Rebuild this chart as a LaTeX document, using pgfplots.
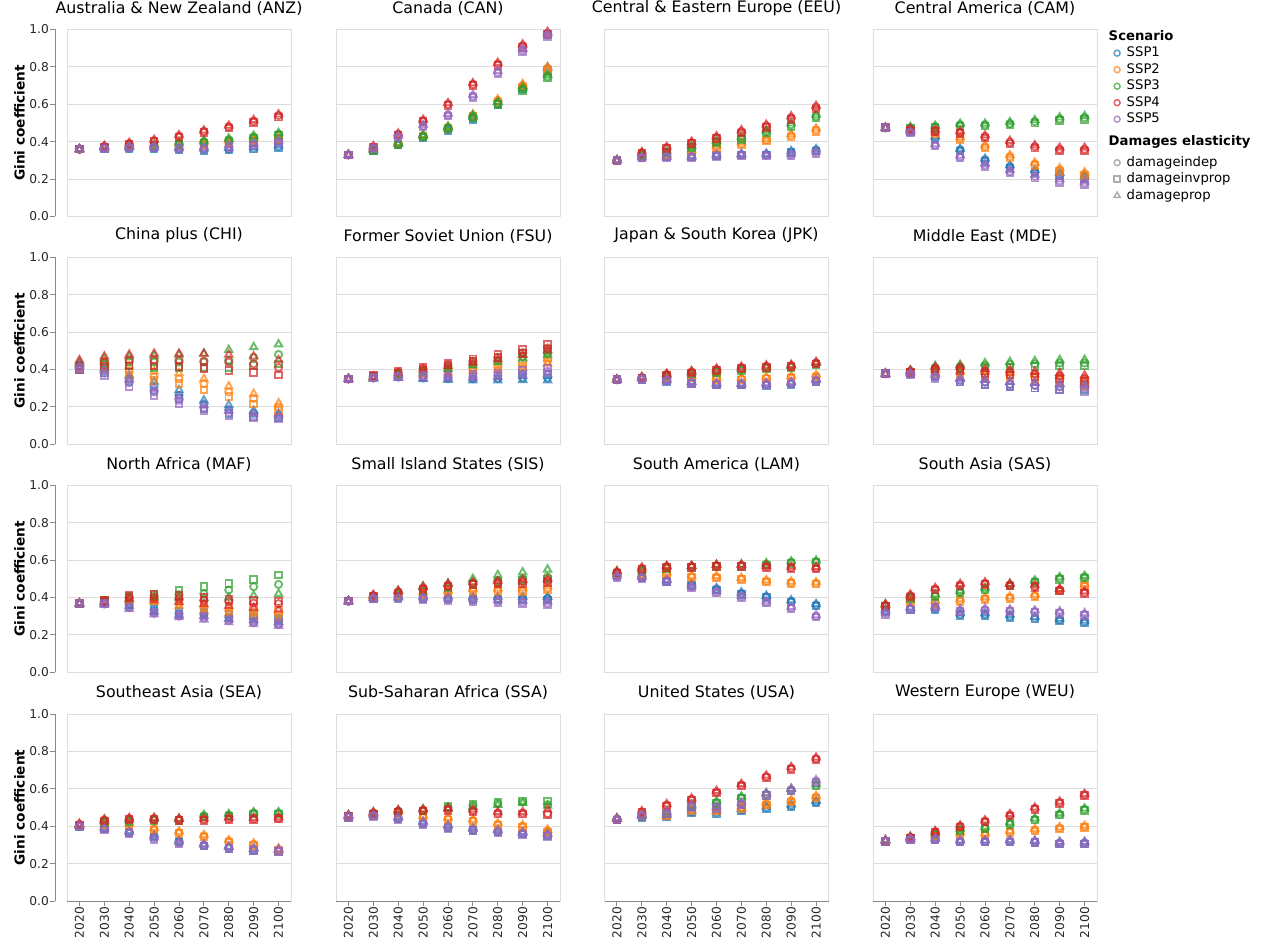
\documentclass[border=0pt]{standalone}
\usepackage{fontspec}
\setmainfont{DejaVu Sans}
\usepackage{pgfplots}
\usepackage{pgfplotstable}
\pgfplotsset{compat=1.18}
\definecolor{c1}{HTML}{1F77B4}
\definecolor{c2}{HTML}{FF7F0E}
\definecolor{c3}{HTML}{2CA02C}
\definecolor{c4}{HTML}{D62728}
\definecolor{c5}{HTML}{9467BD}
\definecolor{gridc}{HTML}{DDDDDD}
\definecolor{axc}{HTML}{888888}

\pgfplotstableread{
x a1 b1 c1 a2 b2 c2 a3 b3 c3 a4 b4 c4 a5 b5 c5
0 0.36 0.36 0.36 0.36 0.36 0.36 0.36 0.36 0.36 0.36 0.36 0.36 0.36 0.36 0.36
1 0.365 0.362 0.367 0.37 0.367 0.372 0.37 0.367 0.372 0.375 0.372 0.378 0.365 0.362 0.367
2 0.365 0.362 0.368 0.375 0.371 0.378 0.375 0.371 0.379 0.39 0.386 0.394 0.37 0.366 0.373
3 0.365 0.361 0.369 0.38 0.375 0.384 0.38 0.375 0.385 0.405 0.40 0.41 0.37 0.366 0.374
4 0.36 0.356 0.365 0.385 0.38 0.39 0.39 0.384 0.395 0.43 0.424 0.435 0.365 0.36 0.37
5 0.358 0.353 0.363 0.39 0.384 0.396 0.40 0.394 0.406 0.455 0.448 0.46 0.365 0.36 0.37
6 0.36 0.355 0.366 0.40 0.393 0.407 0.41 0.403 0.417 0.48 0.473 0.486 0.375 0.37 0.38
7 0.365 0.36 0.371 0.41 0.403 0.417 0.425 0.417 0.432 0.51 0.502 0.516 0.385 0.378 0.39
8 0.375 0.369 0.381 0.42 0.412 0.428 0.44 0.432 0.447 0.54 0.531 0.546 0.40 0.393 0.406
}\tANZ

\pgfplotstableread{
x a1 b1 c1 a2 b2 c2 a3 b3 c3 a4 b4 c4 a5 b5 c5
0 0.33 0.33 0.33 0.33 0.33 0.33 0.33 0.33 0.33 0.33 0.33 0.33 0.33 0.33 0.33
1 0.355 0.353 0.358 0.358 0.356 0.361 0.355 0.352 0.358 0.373 0.37 0.376 0.365 0.362 0.368
2 0.385 0.382 0.389 0.39 0.387 0.394 0.388 0.384 0.392 0.44 0.436 0.444 0.427 0.423 0.431
3 0.425 0.421 0.43 0.432 0.428 0.437 0.43 0.426 0.435 0.512 0.507 0.517 0.484 0.479 0.489
4 0.465 0.46 0.47 0.475 0.47 0.48 0.475 0.469 0.48 0.60 0.594 0.606 0.543 0.537 0.549
5 0.525 0.519 0.531 0.54 0.534 0.546 0.535 0.528 0.541 0.707 0.70 0.713 0.644 0.637 0.651
6 0.605 0.598 0.612 0.62 0.613 0.627 0.605 0.598 0.612 0.815 0.807 0.822 0.771 0.763 0.778
7 0.69 0.682 0.698 0.70 0.692 0.708 0.68 0.672 0.688 0.913 0.905 0.92 0.89 0.882 0.897
8 0.79 0.781 0.798 0.79 0.781 0.798 0.75 0.741 0.758 0.98 0.972 0.987 0.97 0.962 0.977
}\tCAN

\pgfplotstableread{
x a1 b1 c1 a2 b2 c2 a3 b3 c3 a4 b4 c4 a5 b5 c5
0 0.30 0.30 0.30 0.30 0.30 0.30 0.30 0.30 0.30 0.30 0.30 0.30 0.30 0.30 0.30
1 0.316 0.314 0.318 0.325 0.322 0.328 0.33 0.327 0.333 0.341 0.338 0.344 0.314 0.312 0.316
2 0.32 0.318 0.322 0.33 0.327 0.334 0.345 0.341 0.349 0.368 0.364 0.372 0.318 0.316 0.32
3 0.32 0.317 0.323 0.35 0.346 0.355 0.373 0.368 0.378 0.395 0.39 0.40 0.318 0.315 0.321
4 0.329 0.326 0.332 0.373 0.368 0.378 0.40 0.394 0.406 0.423 0.417 0.429 0.325 0.322 0.328
5 0.332 0.328 0.335 0.39 0.384 0.396 0.418 0.411 0.425 0.454 0.447 0.461 0.328 0.325 0.331
6 0.332 0.328 0.336 0.41 0.403 0.417 0.454 0.446 0.461 0.484 0.476 0.491 0.328 0.324 0.332
7 0.345 0.341 0.349 0.432 0.424 0.44 0.49 0.481 0.498 0.528 0.52 0.536 0.33 0.326 0.334
8 0.356 0.351 0.36 0.463 0.454 0.471 0.537 0.528 0.545 0.584 0.575 0.592 0.343 0.338 0.347
}\tEEU

\pgfplotstableread{
x a1 b1 c1 a2 b2 c2 a3 b3 c3 a4 b4 c4 a5 b5 c5
0 0.475 0.475 0.475 0.475 0.475 0.475 0.475 0.475 0.475 0.475 0.475 0.475 0.475 0.475 0.475
1 0.458 0.455 0.461 0.46 0.457 0.463 0.475 0.472 0.478 0.465 0.462 0.468 0.45 0.447 0.453
2 0.423 0.418 0.428 0.445 0.44 0.45 0.48 0.475 0.485 0.46 0.455 0.465 0.382 0.377 0.387
3 0.356 0.35 0.362 0.418 0.412 0.424 0.49 0.484 0.496 0.45 0.444 0.456 0.32 0.314 0.326
4 0.302 0.295 0.309 0.373 0.366 0.38 0.49 0.483 0.497 0.427 0.42 0.434 0.275 0.268 0.282
5 0.266 0.258 0.274 0.32 0.312 0.328 0.497 0.489 0.505 0.397 0.389 0.405 0.24 0.232 0.248
6 0.24 0.232 0.248 0.28 0.272 0.288 0.507 0.499 0.515 0.373 0.365 0.381 0.213 0.205 0.221
7 0.225 0.216 0.234 0.249 0.24 0.258 0.521 0.512 0.53 0.359 0.35 0.368 0.19 0.181 0.199
8 0.21 0.201 0.219 0.227 0.218 0.236 0.528 0.519 0.537 0.359 0.35 0.368 0.178 0.169 0.187
}\tCAM

\pgfplotstableread{
x a1 b1 c1 a2 b2 c2 a3 b3 c3 a4 b4 c4 a5 b5 c5
0 0.41 0.40 0.43 0.41 0.40 0.43 0.42 0.40 0.44 0.42 0.40 0.45 0.41 0.40 0.42
1 0.39 0.38 0.41 0.42 0.40 0.44 0.43 0.41 0.46 0.44 0.42 0.47 0.38 0.365 0.40
2 0.35 0.335 0.37 0.39 0.37 0.42 0.44 0.42 0.47 0.45 0.42 0.48 0.33 0.31 0.35
3 0.31 0.285 0.335 0.36 0.34 0.39 0.44 0.41 0.475 0.45 0.42 0.485 0.28 0.26 0.30
4 0.262 0.244 0.29 0.35 0.325 0.38 0.44 0.41 0.48 0.45 0.415 0.485 0.235 0.215 0.255
5 0.214 0.19 0.235 0.325 0.29 0.35 0.44 0.41 0.485 0.445 0.405 0.485 0.195 0.18 0.21
6 0.185 0.164 0.21 0.28 0.255 0.31 0.45 0.41 0.505 0.44 0.395 0.48 0.17 0.155 0.18
7 0.165 0.145 0.18 0.245 0.215 0.27 0.465 0.42 0.52 0.43 0.385 0.47 0.15 0.14 0.165
8 0.155 0.14 0.165 0.20 0.18 0.22 0.48 0.43 0.535 0.41 0.37 0.45 0.145 0.135 0.155
}\tCHI

\pgfplotstableread{
x a1 b1 c1 a2 b2 c2 a3 b3 c3 a4 b4 c4 a5 b5 c5
0 0.35 0.35 0.35 0.35 0.35 0.35 0.35 0.35 0.35 0.35 0.35 0.35 0.35 0.35 0.35
1 0.355 0.359 0.352 0.36 0.364 0.357 0.362 0.366 0.359 0.365 0.369 0.362 0.355 0.359 0.352
2 0.36 0.366 0.356 0.37 0.376 0.366 0.375 0.381 0.371 0.385 0.391 0.381 0.36 0.366 0.356
3 0.355 0.363 0.349 0.38 0.388 0.374 0.39 0.398 0.384 0.405 0.413 0.399 0.36 0.368 0.354
4 0.352 0.362 0.345 0.39 0.40 0.383 0.41 0.42 0.403 0.425 0.435 0.418 0.36 0.37 0.353
5 0.35 0.362 0.342 0.40 0.412 0.392 0.43 0.442 0.422 0.445 0.457 0.437 0.362 0.374 0.354
6 0.352 0.366 0.342 0.41 0.424 0.40 0.45 0.464 0.44 0.465 0.479 0.455 0.368 0.382 0.358
7 0.355 0.371 0.344 0.42 0.436 0.409 0.47 0.486 0.459 0.49 0.506 0.479 0.378 0.394 0.367
8 0.355 0.373 0.342 0.445 0.463 0.432 0.49 0.508 0.477 0.515 0.533 0.502 0.39 0.408 0.377
}\tFSU

\pgfplotstableread{
x a1 b1 c1 a2 b2 c2 a3 b3 c3 a4 b4 c4 a5 b5 c5
0 0.346 0.346 0.346 0.346 0.346 0.346 0.346 0.346 0.346 0.346 0.346 0.346 0.346 0.346 0.346
1 0.35 0.347 0.353 0.352 0.349 0.355 0.355 0.352 0.358 0.357 0.354 0.36 0.35 0.347 0.353
2 0.34 0.336 0.344 0.36 0.356 0.364 0.368 0.364 0.372 0.374 0.37 0.378 0.342 0.338 0.346
3 0.33 0.326 0.334 0.36 0.355 0.365 0.38 0.375 0.385 0.387 0.382 0.392 0.33 0.326 0.334
4 0.322 0.318 0.326 0.352 0.347 0.357 0.39 0.385 0.395 0.40 0.395 0.405 0.322 0.318 0.326
5 0.32 0.316 0.324 0.35 0.345 0.355 0.40 0.395 0.405 0.41 0.405 0.415 0.322 0.318 0.326
6 0.32 0.315 0.325 0.355 0.35 0.36 0.41 0.405 0.415 0.417 0.412 0.422 0.322 0.317 0.327
7 0.325 0.32 0.33 0.36 0.355 0.365 0.415 0.41 0.42 0.42 0.415 0.425 0.328 0.323 0.333
8 0.34 0.335 0.345 0.365 0.36 0.37 0.43 0.425 0.435 0.435 0.43 0.44 0.34 0.335 0.345
}\tJPK

\pgfplotstableread{
x a1 b1 c1 a2 b2 c2 a3 b3 c3 a4 b4 c4 a5 b5 c5
0 0.378 0.378 0.378 0.378 0.378 0.378 0.378 0.378 0.378 0.378 0.378 0.378 0.378 0.378 0.378
1 0.38 0.375 0.385 0.385 0.38 0.39 0.39 0.385 0.395 0.39 0.385 0.395 0.375 0.37 0.38
2 0.37 0.362 0.378 0.39 0.382 0.398 0.41 0.402 0.418 0.405 0.397 0.413 0.36 0.352 0.368
3 0.342 0.332 0.352 0.38 0.37 0.39 0.415 0.405 0.425 0.405 0.395 0.415 0.342 0.332 0.352
4 0.333 0.321 0.345 0.375 0.363 0.387 0.422 0.41 0.434 0.39 0.378 0.402 0.333 0.321 0.345
5 0.32 0.306 0.334 0.37 0.356 0.384 0.427 0.413 0.441 0.385 0.371 0.399 0.32 0.306 0.334
6 0.315 0.30 0.33 0.36 0.345 0.375 0.43 0.415 0.445 0.375 0.36 0.39 0.315 0.30 0.33
7 0.31 0.294 0.326 0.35 0.334 0.366 0.435 0.419 0.451 0.365 0.349 0.381 0.306 0.29 0.322
8 0.31 0.293 0.327 0.33 0.313 0.347 0.435 0.418 0.452 0.352 0.335 0.369 0.30 0.283 0.317
}\tMDE

\pgfplotstableread{
x a1 b1 c1 a2 b2 c2 a3 b3 c3 a4 b4 c4 a5 b5 c5
0 0.369 0.369 0.369 0.369 0.369 0.369 0.369 0.369 0.369 0.369 0.369 0.369 0.369 0.369 0.369
1 0.37 0.372 0.368 0.38 0.383 0.377 0.38 0.385 0.378 0.38 0.385 0.375 0.365 0.368 0.362
2 0.36 0.365 0.355 0.395 0.40 0.385 0.40 0.405 0.395 0.40 0.41 0.39 0.345 0.35 0.34
3 0.333 0.34 0.325 0.385 0.395 0.375 0.41 0.42 0.40 0.40 0.415 0.385 0.315 0.322 0.31
4 0.315 0.325 0.305 0.37 0.385 0.355 0.415 0.44 0.40 0.395 0.41 0.375 0.30 0.31 0.295
5 0.31 0.32 0.30 0.345 0.365 0.33 0.42 0.458 0.395 0.385 0.40 0.365 0.29 0.30 0.282
6 0.295 0.31 0.285 0.33 0.35 0.315 0.44 0.476 0.40 0.378 0.39 0.355 0.276 0.285 0.268
7 0.295 0.305 0.28 0.32 0.34 0.30 0.458 0.497 0.41 0.37 0.385 0.345 0.265 0.275 0.258
8 0.28 0.29 0.27 0.31 0.33 0.29 0.47 0.52 0.42 0.367 0.38 0.335 0.255 0.265 0.248
}\tMAF

\pgfplotstableread{
x a1 b1 c1 a2 b2 c2 a3 b3 c3 a4 b4 c4 a5 b5 c5
0 0.381 0.381 0.381 0.381 0.381 0.381 0.381 0.381 0.381 0.381 0.381 0.381 0.381 0.381 0.381
1 0.395 0.392 0.398 0.40 0.397 0.403 0.405 0.40 0.41 0.41 0.406 0.414 0.395 0.392 0.398
2 0.40 0.396 0.404 0.415 0.41 0.42 0.425 0.418 0.435 0.43 0.425 0.436 0.395 0.391 0.399
3 0.40 0.395 0.405 0.42 0.414 0.426 0.445 0.437 0.46 0.45 0.444 0.456 0.395 0.39 0.40
4 0.40 0.394 0.406 0.43 0.424 0.436 0.46 0.451 0.475 0.465 0.458 0.472 0.39 0.384 0.396
5 0.397 0.39 0.404 0.44 0.433 0.447 0.48 0.47 0.50 0.475 0.468 0.482 0.385 0.378 0.392
6 0.395 0.388 0.402 0.44 0.432 0.448 0.49 0.48 0.52 0.48 0.472 0.488 0.38 0.373 0.387
7 0.395 0.387 0.403 0.44 0.431 0.449 0.50 0.49 0.535 0.485 0.476 0.494 0.375 0.367 0.383
8 0.395 0.386 0.404 0.45 0.441 0.46 0.51 0.50 0.55 0.49 0.48 0.50 0.37 0.362 0.378
}\tSIS

\pgfplotstableread{
x a1 b1 c1 a2 b2 c2 a3 b3 c3 a4 b4 c4 a5 b5 c5
0 0.52 0.515 0.525 0.525 0.52 0.53 0.535 0.53 0.54 0.535 0.53 0.54 0.51 0.505 0.515
1 0.51 0.505 0.515 0.52 0.515 0.525 0.545 0.54 0.55 0.556 0.551 0.561 0.505 0.50 0.51
2 0.49 0.485 0.495 0.53 0.525 0.535 0.56 0.555 0.565 0.565 0.56 0.57 0.488 0.483 0.493
3 0.47 0.465 0.475 0.512 0.507 0.517 0.565 0.56 0.57 0.565 0.56 0.57 0.456 0.451 0.461
4 0.445 0.44 0.45 0.51 0.505 0.515 0.57 0.565 0.575 0.57 0.565 0.575 0.43 0.425 0.435
5 0.422 0.417 0.427 0.50 0.495 0.505 0.572 0.567 0.577 0.57 0.565 0.575 0.405 0.40 0.41
6 0.404 0.399 0.409 0.488 0.483 0.493 0.578 0.573 0.583 0.565 0.56 0.57 0.375 0.37 0.38
7 0.38 0.375 0.385 0.48 0.475 0.485 0.588 0.583 0.593 0.56 0.555 0.565 0.345 0.34 0.35
8 0.36 0.355 0.365 0.476 0.471 0.481 0.592 0.587 0.597 0.558 0.553 0.563 0.30 0.295 0.305
}\tLAM

\pgfplotstableread{
x a1 b1 c1 a2 b2 c2 a3 b3 c3 a4 b4 c4 a5 b5 c5
0 0.33 0.324 0.336 0.357 0.351 0.363 0.357 0.351 0.363 0.357 0.351 0.363 0.316 0.31 0.322
1 0.34 0.334 0.346 0.38 0.374 0.386 0.40 0.394 0.406 0.41 0.404 0.416 0.34 0.334 0.346
2 0.34 0.334 0.346 0.375 0.369 0.381 0.41 0.404 0.416 0.445 0.439 0.451 0.35 0.344 0.356
3 0.31 0.304 0.316 0.385 0.379 0.391 0.43 0.424 0.436 0.467 0.461 0.473 0.33 0.324 0.336
4 0.31 0.304 0.316 0.395 0.389 0.401 0.445 0.439 0.451 0.475 0.469 0.481 0.335 0.329 0.341
5 0.30 0.294 0.306 0.40 0.394 0.406 0.467 0.461 0.473 0.467 0.461 0.473 0.33 0.324 0.336
6 0.29 0.284 0.296 0.41 0.404 0.416 0.485 0.479 0.491 0.46 0.454 0.466 0.325 0.319 0.331
7 0.28 0.274 0.286 0.44 0.434 0.446 0.503 0.497 0.509 0.44 0.434 0.446 0.32 0.314 0.326
8 0.27 0.264 0.276 0.465 0.459 0.471 0.51 0.504 0.516 0.428 0.422 0.434 0.31 0.304 0.316
}\tSAS

\pgfplotstableread{
x a1 b1 c1 a2 b2 c2 a3 b3 c3 a4 b4 c4 a5 b5 c5
0 0.40 0.397 0.403 0.405 0.402 0.408 0.405 0.402 0.408 0.41 0.407 0.413 0.40 0.397 0.403
1 0.39 0.386 0.394 0.41 0.406 0.414 0.425 0.421 0.429 0.433 0.429 0.437 0.385 0.381 0.389
2 0.37 0.366 0.374 0.41 0.406 0.414 0.43 0.426 0.434 0.44 0.436 0.444 0.365 0.361 0.369
3 0.348 0.343 0.353 0.385 0.38 0.39 0.435 0.43 0.44 0.44 0.435 0.445 0.335 0.33 0.34
4 0.32 0.315 0.325 0.366 0.361 0.371 0.435 0.43 0.44 0.435 0.43 0.44 0.31 0.305 0.315
5 0.298 0.293 0.303 0.348 0.343 0.353 0.455 0.45 0.46 0.436 0.431 0.441 0.298 0.293 0.303
6 0.285 0.28 0.29 0.32 0.315 0.325 0.46 0.455 0.465 0.44 0.435 0.445 0.285 0.28 0.29
7 0.275 0.27 0.28 0.303 0.298 0.308 0.47 0.465 0.475 0.44 0.435 0.445 0.275 0.27 0.28
8 0.27 0.265 0.275 0.275 0.27 0.28 0.47 0.465 0.475 0.443 0.438 0.448 0.27 0.265 0.275
}\tSEA

\pgfplotstableread{
x a1 b1 c1 a2 b2 c2 a3 b3 c3 a4 b4 c4 a5 b5 c5
0 0.45 0.446 0.454 0.455 0.451 0.459 0.455 0.451 0.459 0.455 0.451 0.459 0.45 0.446 0.454
1 0.46 0.456 0.464 0.465 0.461 0.469 0.47 0.466 0.474 0.47 0.466 0.474 0.455 0.451 0.459
2 0.445 0.44 0.45 0.47 0.465 0.475 0.48 0.475 0.485 0.48 0.475 0.485 0.44 0.435 0.445
3 0.42 0.415 0.425 0.45 0.445 0.455 0.485 0.48 0.49 0.485 0.48 0.49 0.415 0.41 0.42
4 0.40 0.394 0.406 0.44 0.434 0.446 0.50 0.506 0.494 0.49 0.484 0.496 0.395 0.389 0.401
5 0.384 0.378 0.39 0.43 0.424 0.436 0.51 0.516 0.504 0.483 0.477 0.489 0.38 0.374 0.386
6 0.375 0.369 0.381 0.41 0.404 0.416 0.52 0.526 0.514 0.47 0.464 0.476 0.37 0.364 0.376
7 0.364 0.358 0.37 0.40 0.394 0.406 0.53 0.536 0.524 0.47 0.464 0.476 0.36 0.354 0.366
8 0.357 0.351 0.363 0.375 0.369 0.381 0.515 0.535 0.51 0.467 0.461 0.49 0.35 0.344 0.356
}\tSSA

\pgfplotstableread{
x a1 b1 c1 a2 b2 c2 a3 b3 c3 a4 b4 c4 a5 b5 c5
0 0.437 0.433 0.441 0.437 0.433 0.441 0.437 0.433 0.441 0.437 0.433 0.441 0.437 0.433 0.441
1 0.45 0.446 0.454 0.455 0.451 0.459 0.455 0.451 0.459 0.476 0.472 0.48 0.455 0.451 0.459
2 0.455 0.45 0.46 0.46 0.455 0.465 0.47 0.465 0.475 0.513 0.508 0.518 0.47 0.465 0.475
3 0.475 0.47 0.48 0.49 0.485 0.495 0.51 0.505 0.515 0.544 0.539 0.549 0.505 0.50 0.51
4 0.475 0.469 0.481 0.49 0.484 0.496 0.527 0.521 0.533 0.583 0.577 0.589 0.50 0.494 0.506
5 0.487 0.481 0.493 0.50 0.494 0.506 0.553 0.547 0.559 0.62 0.614 0.626 0.52 0.514 0.526
6 0.50 0.494 0.506 0.52 0.514 0.526 0.57 0.564 0.576 0.665 0.659 0.671 0.57 0.564 0.576
7 0.51 0.504 0.516 0.535 0.529 0.541 0.594 0.588 0.60 0.71 0.704 0.716 0.594 0.588 0.60
8 0.53 0.524 0.536 0.556 0.55 0.562 0.62 0.614 0.626 0.761 0.755 0.767 0.64 0.634 0.646
}\tUSA

\pgfplotstableread{
x a1 b1 c1 a2 b2 c2 a3 b3 c3 a4 b4 c4 a5 b5 c5
0 0.321 0.318 0.324 0.321 0.318 0.324 0.321 0.318 0.324 0.321 0.318 0.324 0.321 0.318 0.324
1 0.33 0.327 0.333 0.335 0.332 0.338 0.34 0.337 0.343 0.34 0.337 0.343 0.33 0.327 0.333
2 0.33 0.326 0.334 0.35 0.346 0.354 0.36 0.356 0.364 0.37 0.366 0.374 0.33 0.326 0.334
3 0.32 0.316 0.324 0.36 0.356 0.364 0.38 0.376 0.384 0.40 0.396 0.404 0.32 0.316 0.324
4 0.32 0.316 0.324 0.357 0.353 0.361 0.39 0.386 0.394 0.427 0.423 0.431 0.32 0.316 0.324
5 0.32 0.315 0.325 0.37 0.365 0.375 0.415 0.41 0.42 0.46 0.455 0.465 0.32 0.315 0.325
6 0.317 0.312 0.322 0.38 0.375 0.385 0.437 0.432 0.442 0.495 0.49 0.50 0.317 0.312 0.322
7 0.31 0.305 0.315 0.39 0.385 0.395 0.464 0.459 0.469 0.527 0.522 0.532 0.31 0.305 0.315
8 0.31 0.305 0.315 0.397 0.392 0.402 0.49 0.485 0.495 0.568 0.563 0.573 0.31 0.305 0.315
}\tWEU

\newcommand{\fti}{\fontsize{15.8pt}{19pt}\selectfont}
\newcommand{\ftick}{\fontsize{12.2pt}{14pt}\selectfont}
\newcommand{\flab}{\fontsize{13.7pt}{16pt}\selectfont\bfseries}
\newcommand{\fleg}{\fontsize{13.2pt}{15pt}\selectfont}
\newcommand{\flegh}{\fontsize{13.2pt}{15pt}\selectfont\bfseries}

\pgfplotsset{
  gmark/.style={only marks, forget plot, line width=1.9pt, draw opacity=0.7, mark options={solid, fill=none}},
  gpanel/.style={
    scale only axis, width=224pt, height=187pt, anchor=north west,
    xmin=-0.5, xmax=8.5, ymin=0, ymax=1,
    xtick=\empty, ytick={0,0.2,0.4,0.6,0.8,1},
    yticklabels={},
    ymajorgrids, major grid style={draw=gridc, line width=1pt},
    axis line style={draw=gridc, line width=1pt},
    major tick length=0pt, tick style={draw=none},
    tick label style={font=\ftick, text=black!85},
    yticklabel style={anchor=east, inner sep=0pt, xshift=-18pt},
    xticklabel style={rotate=90, anchor=east, inner sep=0pt},
    xticklabel shift=6pt,
    title style={font=\fti, at={(0.5,1)}, anchor=south, inner sep=0pt, yshift=8pt},
    clip=false,
  },
  leftcol/.style={
    yticklabels={0.0,0.2,0.4,0.6,0.8,1.0},
    ylabel={Gini coefficient},
    ylabel style={font=\flab, at={(axis description cs:-0.1875,0.5)}, anchor=south, inner sep=0pt},
    after end axis/.append code={
      \draw[axc, line width=1pt] ([xshift=-12pt]rel axis cs:0,0) -- ([xshift=-12pt]rel axis cs:0,1);
      \foreach \yy in {0,0.2,0.4,0.6,0.8,1} {\draw[axc, line width=1pt] ([xshift=-12pt]axis cs:-0.5,\yy) -- ++(-5pt,0pt);}
    }
  },
  bottomrow/.style={
    xtick={0,1,2,3,4,5,6,7,8},
    xticklabels={2020,2030,2040,2050,2060,2070,2080,2090,2100},
    after end axis/.append code={
      \draw[axc, line width=1pt] (rel axis cs:0,0) -- (rel axis cs:1,0);
      \foreach \xx in {0,...,8} {\draw[axc, line width=1pt] (axis cs:\xx,0) -- ++(0pt,-5pt);}
    }
  },
  limg/.style={legend image code/.code={\draw[##1] plot coordinates {(0pt,0pt)};}, line width=1.5pt, draw opacity=0.7, mark options={solid, fill=none}, mark size=3pt},
}

\newcommand{\plotssp}[3]{%
  \addplot[gmark, draw=#1, mark=o, mark size=3.6pt] table[x=x, y=a#2] {#3};
  \addplot[gmark, draw=#1, mark=square, mark size=3.3pt] table[x=x, y=b#2] {#3};
  \addplot[gmark, draw=#1, mark=triangle, mark size=4.2pt] table[x=x, y=c#2] {#3};
}

\newcommand{\panel}[6]{%
\begin{axis}[gpanel, at={(#3pt,#4pt)}, title={#2}, #5]
\plotssp{c1}{1}{#1}\plotssp{c2}{2}{#1}\plotssp{c3}{3}{#1}\plotssp{c4}{4}{#1}\plotssp{c5}{5}{#1}
#6
\end{axis}}

\begin{document}
\begin{tikzpicture}
\useasboundingbox (0pt,0pt) rectangle (1263pt,938pt);
% row 1
\panel{\tANZ}{Australia \& New Zealand (ANZ)}{67}{908.5}{leftcol}{}
\panel{\tCAN}{Canada (CAN)}{336}{908.5}{}{}
\panel{\tEEU}{Central \& Eastern Europe (EEU)}{604.5}{908.5}{}{}
\panel{\tCAM}{Central America (CAM)}{873}{908.5}{
  legend style={at={(1,1)}, anchor=north west, xshift=16.8pt, yshift=-1pt, draw=none, fill=none, inner sep=0pt, row sep=4.5pt, font=\fleg, nodes={inner sep=0pt, text height=9.5pt, text depth=2.5pt}, /tikz/every odd column/.append style={column sep=6.5pt}},
  legend cell align=left}{%
  \addlegendimage{empty legend}\addlegendentry{\hspace*{-18pt}\flegh Scenario}
  \addlegendimage{limg, mark=o, draw=c1}\addlegendentry{SSP1}
  \addlegendimage{limg, mark=o, draw=c2}\addlegendentry{SSP2}
  \addlegendimage{limg, mark=o, draw=c3}\addlegendentry{SSP3}
  \addlegendimage{limg, mark=o, draw=c4}\addlegendentry{SSP4}
  \addlegendimage{limg, mark=o, draw=c5}\addlegendentry{SSP5}
  \addlegendimage{empty legend}\addlegendentry[text height=16pt, text depth=6.5pt]{\hspace*{-18pt}\flegh Damages elasticity}
  \addlegendimage{limg, mark=o, draw=black!45}\addlegendentry{damageindep}
  \addlegendimage{limg, mark=square, draw=black!45}\addlegendentry{damageinvprop}
  \addlegendimage{limg, mark=triangle, mark size=3.6pt, draw=black!45}\addlegendentry{damageprop}
}
% row 2
\panel{\tCHI}{China plus (CHI)}{67}{680.7}{leftcol}{}
\panel{\tFSU}{Former Soviet Union (FSU)}{336}{680.7}{}{}
\panel{\tJPK}{Japan \& South Korea (JPK)}{604.5}{680.7}{}{}
\panel{\tMDE}{Middle East (MDE)}{873}{680.7}{}{}
% row 3
\panel{\tMAF}{North Africa (MAF)}{67}{452.7}{leftcol}{}
\panel{\tSIS}{Small Island States (SIS)}{336}{452.7}{}{}
\panel{\tLAM}{South America (LAM)}{604.5}{452.7}{}{}
\panel{\tSAS}{South Asia (SAS)}{873}{452.7}{}{}
% row 4
\panel{\tSEA}{Southeast Asia (SEA)}{67}{224}{leftcol,bottomrow}{}
\panel{\tSSA}{Sub-Saharan Africa (SSA)}{336}{224}{bottomrow}{}
\panel{\tUSA}{United States (USA)}{604.5}{224}{bottomrow}{}
\panel{\tWEU}{Western Europe (WEU)}{873}{224}{bottomrow}{}
\end{tikzpicture}
\end{document}
